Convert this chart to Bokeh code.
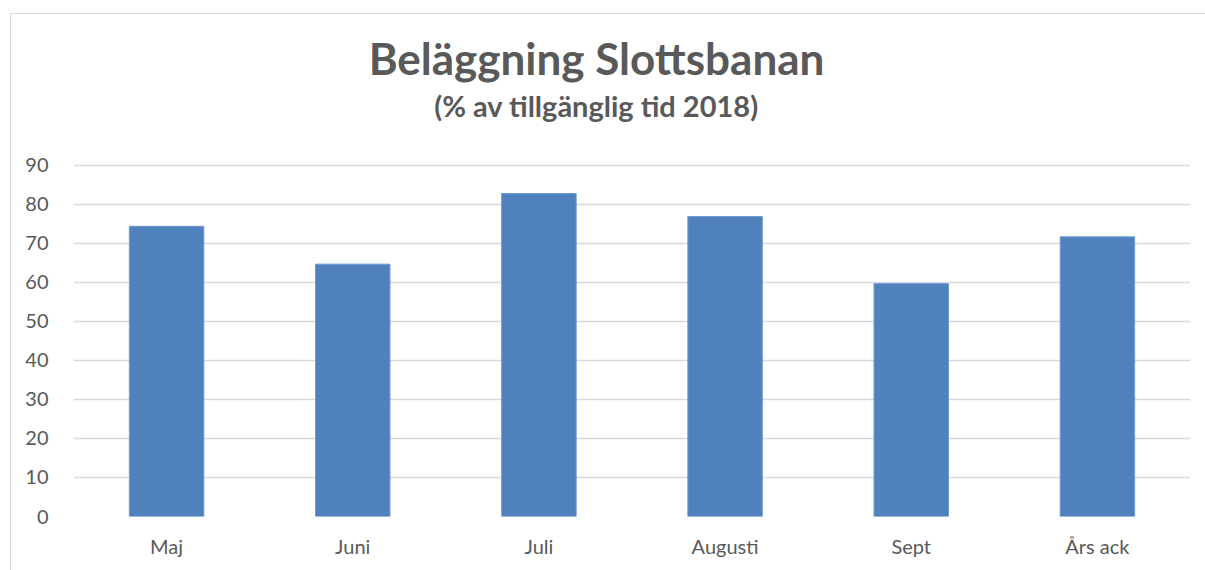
from bokeh.plotting import figure
from bokeh.models import Label, FixedTicker, Range1d
from bokeh.embed import file_html
from bokeh.resources import INLINE

categories = ["Maj", "Juni", "Juli", "Augusti", "Sept", "Års ack"]
values = [74.4, 64.7, 82.8, 76.9, 59.7, 71.7]
y_ticks = [0, 10, 20, 30, 40, 50, 60, 70, 80, 90]
title_text = "Beläggning Slottsbanan"
subtitle_text = "(% av tillgänglig tid 2018)"

FONT = "Lato"
GREY = "#595959"

# frame spans from canvas top to the zero line; 90 sits at 3.9 px per unit
p = figure(x_range=categories, y_range=Range1d(0, 128.7), width=1195, height=557,
           output_backend="svg", toolbar_location=None,
           min_border_left=62, min_border_right=16, min_border_top=0, min_border_bottom=55)
p.margin = (13, 0, 0, 10)
p.styles = {"border-top": "1px solid #d9d9d9", "border-left": "1px solid #d9d9d9"}

p.vbar(x=categories, top=values, width=0.4, fill_color="#4f81bd", line_color="#6f9ad0", line_width=1)

p.outline_line_color = None
p.background_fill_color = "white"
p.border_fill_color = "white"

p.xgrid.grid_line_color = None
p.ygrid.grid_line_color = "#d9d9d9"
p.ygrid.grid_line_width = 1.5
p.yaxis.ticker = FixedTicker(ticks=y_ticks)
p.ygrid.ticker = FixedTicker(ticks=y_ticks)

for ax in (p.xaxis, p.yaxis):
    ax.axis_line_color = None
    ax.major_tick_line_color = None
    ax.minor_tick_line_color = None
    ax.major_label_text_font = FONT
    ax.major_label_text_font_size = "20px"
    ax.major_label_text_color = GREY
p.xaxis.major_label_standoff = 11
p.yaxis.major_label_standoff = 19

p.add_layout(Label(x=523, y=516 - 57, x_units="screen", y_units="screen",
                   text=title_text, text_font=FONT, text_font_style="bold",
                   text_font_size="44px", text_color=GREY,
                   text_align="center", text_baseline="middle"))
p.add_layout(Label(x=523, y=516 - 105, x_units="screen", y_units="screen",
                   text=subtitle_text, text_font=FONT, text_font_style="bold",
                   text_font_size="29px", text_color=GREY,
                   text_align="center", text_baseline="middle"))

open("out.html", "w").write(file_html(p, INLINE))
